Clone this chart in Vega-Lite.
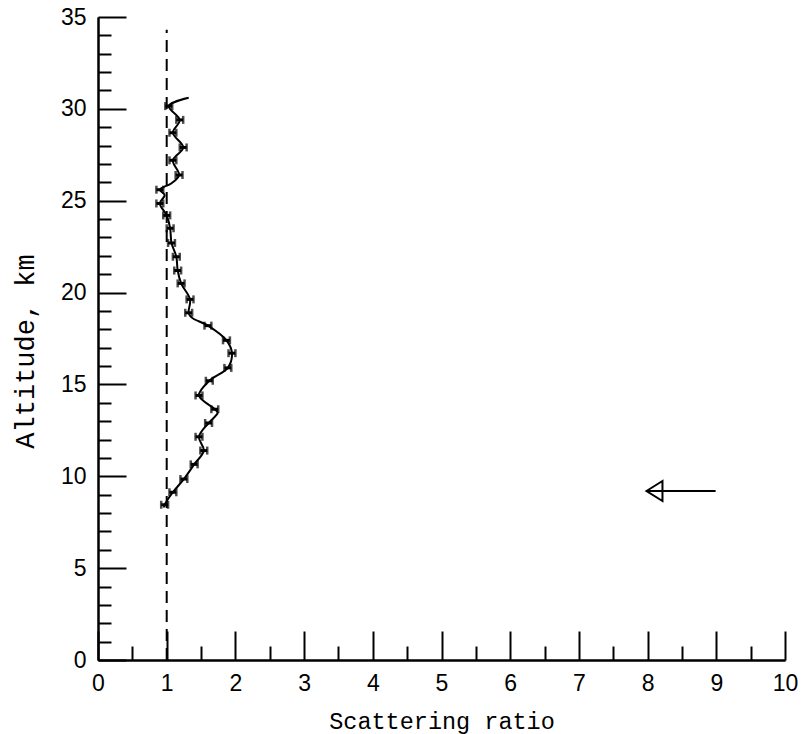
{
  "$schema": "https://vega.github.io/schema/vega-lite/v6.json",
  "width": 687,
  "height": 643,
  "autosize": "none",
  "padding": {"left": 98, "top": 17, "right": 18, "bottom": 74},
  "background": "white",
  "config": {
    "view": {"stroke": null},
    "axis": {
      "grid": false,
      "domainColor": "black",
      "domainWidth": 2,
      "tickColor": "black",
      "tickWidth": 2,
      "labelColor": "black",
      "labelFont": "Liberation Sans",
      "labelFontSize": 23,
      "labelOverlap": false,
      "labelFlush": false,
      "titleColor": "black",
      "titleFont": "Liberation Mono",
      "titleFontWeight": "normal"
    }
  },
  "resolve": {"axis": {"x": "independent", "y": "independent"}},
  "datasets": {
    "curve": [
      {"ratio": 0.96, "alt": 8.3},
      {"ratio": 0.97, "alt": 8.45},
      {"ratio": 1.09, "alt": 9.13},
      {"ratio": 1.25, "alt": 9.85},
      {"ratio": 1.40, "alt": 10.65},
      {"ratio": 1.54, "alt": 11.4},
      {"ratio": 1.47, "alt": 12.15},
      {"ratio": 1.61, "alt": 12.9},
      {"ratio": 1.74, "alt": 13.45},
      {"ratio": 1.70, "alt": 13.65},
      {"ratio": 1.47, "alt": 14.4},
      {"ratio": 1.62, "alt": 15.2},
      {"ratio": 1.89, "alt": 15.9},
      {"ratio": 1.95, "alt": 16.7},
      {"ratio": 1.87, "alt": 17.4},
      {"ratio": 1.60, "alt": 18.2},
      {"ratio": 1.36, "alt": 18.65},
      {"ratio": 1.32, "alt": 18.9},
      {"ratio": 1.34, "alt": 19.63},
      {"ratio": 1.21, "alt": 20.5},
      {"ratio": 1.16, "alt": 21.2},
      {"ratio": 1.14, "alt": 21.95},
      {"ratio": 1.07, "alt": 22.7},
      {"ratio": 1.05, "alt": 23.5},
      {"ratio": 1.00, "alt": 24.2},
      {"ratio": 0.90, "alt": 24.85},
      {"ratio": 0.97, "alt": 25.3},
      {"ratio": 0.90, "alt": 25.6},
      {"ratio": 1.07, "alt": 25.95},
      {"ratio": 1.18, "alt": 26.4},
      {"ratio": 1.09, "alt": 27.2},
      {"ratio": 1.24, "alt": 27.9},
      {"ratio": 1.09, "alt": 28.7},
      {"ratio": 1.19, "alt": 29.4},
      {"ratio": 1.03, "alt": 30.15},
      {"ratio": 1.32, "alt": 30.6}
    ],
    "bars": [
      {"alt": 8.45, "lo": 0.92, "hi": 1.02},
      {"alt": 9.13, "lo": 1.04, "hi": 1.14},
      {"alt": 9.85, "lo": 1.20, "hi": 1.30},
      {"alt": 10.65, "lo": 1.35, "hi": 1.45},
      {"alt": 11.4, "lo": 1.49, "hi": 1.59},
      {"alt": 12.15, "lo": 1.42, "hi": 1.52},
      {"alt": 12.9, "lo": 1.56, "hi": 1.66},
      {"alt": 13.65, "lo": 1.65, "hi": 1.75},
      {"alt": 14.4, "lo": 1.42, "hi": 1.52},
      {"alt": 15.2, "lo": 1.57, "hi": 1.67},
      {"alt": 15.9, "lo": 1.84, "hi": 1.94},
      {"alt": 16.7, "lo": 1.90, "hi": 2.00},
      {"alt": 17.4, "lo": 1.82, "hi": 1.92},
      {"alt": 18.2, "lo": 1.55, "hi": 1.65},
      {"alt": 18.9, "lo": 1.27, "hi": 1.37},
      {"alt": 19.63, "lo": 1.29, "hi": 1.39},
      {"alt": 20.5, "lo": 1.16, "hi": 1.26},
      {"alt": 21.2, "lo": 1.11, "hi": 1.21},
      {"alt": 21.95, "lo": 1.09, "hi": 1.19},
      {"alt": 22.7, "lo": 1.02, "hi": 1.12},
      {"alt": 23.5, "lo": 1.00, "hi": 1.10},
      {"alt": 24.2, "lo": 0.95, "hi": 1.05},
      {"alt": 24.85, "lo": 0.85, "hi": 0.95},
      {"alt": 25.6, "lo": 0.85, "hi": 0.95},
      {"alt": 26.4, "lo": 1.13, "hi": 1.23},
      {"alt": 27.2, "lo": 1.04, "hi": 1.14},
      {"alt": 27.9, "lo": 1.19, "hi": 1.29},
      {"alt": 28.7, "lo": 1.04, "hi": 1.14},
      {"alt": 29.4, "lo": 1.14, "hi": 1.24},
      {"alt": 30.15, "lo": 0.98, "hi": 1.08}
    ],
    "reference": [
      {"ratio": 1, "alt0": 0, "alt1": 34.3}
    ],
    "arrow": [
      {"tip": 7.98, "tail": 8.99, "head": 8.1, "alt": 9.2}
    ]
  },
  "layer": [
    {
      "data": {"name": "reference"},
      "mark": {"type": "rule", "color": "black", "strokeWidth": 2, "strokeDash": [12, 7]},
      "encoding": {
        "x": {
          "field": "ratio", "type": "quantitative",
          "scale": {"domain": [0, 10], "nice": false, "zero": false},
          "axis": {
            "orient": "bottom",
            "values": [0.5, 1.5, 2.5, 3.5, 4.5, 5.5, 6.5, 7.5, 8.5, 9.5],
            "labels": false,
            "tickSize": -14,
            "title": null
          }
        },
        "y": {
          "field": "alt0", "type": "quantitative",
          "scale": {"domain": [0, 35], "nice": false, "zero": false},
          "axis": {
            "orient": "left",
            "values": [1, 2, 3, 4, 6, 7, 8, 9, 11, 12, 13, 14, 16, 17, 18, 19, 21, 22, 23, 24, 26, 27, 28, 29, 31, 32, 33, 34],
            "labels": false,
            "tickSize": -13,
            "title": null
          }
        },
        "y2": {"field": "alt1"}
      }
    },
    {
      "data": {"name": "curve"},
      "mark": {"type": "line", "color": "black", "strokeWidth": 2, "interpolate": "catmull-rom"},
      "encoding": {
        "x": {
          "field": "ratio", "type": "quantitative",
          "axis": {
            "orient": "bottom",
            "values": [0, 1, 2, 3, 4, 5, 6, 7, 8, 9, 10],
            "format": "d",
            "tickSize": -29,
            "labelPadding": 41,
            "title": "Scattering ratio",
            "titleFontSize": 23.5,
            "titlePadding": 14
          }
        },
        "y": {
          "field": "alt", "type": "quantitative",
          "axis": {
            "orient": "left",
            "values": [0, 5, 10, 15, 20, 25, 30, 35],
            "format": "d",
            "tickSize": -28,
            "labelPadding": 40,
            "title": "Altitude, km",
            "titleFontSize": 27,
            "titleX": -65,
            "titleY": 334,
            "titleBaseline": "alphabetic",
            "titleAngle": -90
          }
        },
        "order": {"field": "alt", "type": "quantitative"}
      }
    },
    {
      "data": {"name": "bars"},
      "mark": {"type": "rule", "color": "black", "strokeWidth": 3},
      "encoding": {
        "x": {"field": "lo", "type": "quantitative", "axis": null},
        "x2": {"field": "hi"},
        "y": {"field": "alt", "type": "quantitative", "axis": null}
      }
    },
    {
      "data": {"name": "bars"},
      "mark": {"type": "tick", "orient": "vertical", "color": "black", "size": 8, "thickness": 2.5},
      "encoding": {
        "x": {"field": "lo", "type": "quantitative", "axis": null},
        "y": {"field": "alt", "type": "quantitative", "axis": null}
      }
    },
    {
      "data": {"name": "bars"},
      "mark": {"type": "tick", "orient": "vertical", "color": "black", "size": 8, "thickness": 2.5},
      "encoding": {
        "x": {"field": "hi", "type": "quantitative", "axis": null},
        "y": {"field": "alt", "type": "quantitative", "axis": null}
      }
    },
    {
      "data": {"name": "arrow"},
      "mark": {"type": "rule", "color": "black", "strokeWidth": 2},
      "encoding": {
        "x": {"field": "tip", "type": "quantitative", "axis": null},
        "x2": {"field": "tail"},
        "y": {"field": "alt", "type": "quantitative", "axis": null}
      }
    },
    {
      "data": {"name": "arrow"},
      "mark": {"type": "point", "shape": "M -1 0 L 1 -1.25 L 1 1.25 Z", "filled": false, "color": "black", "strokeWidth": 2, "size": 256, "opacity": 1},
      "encoding": {
        "x": {"field": "head", "type": "quantitative", "axis": null},
        "y": {"field": "alt", "type": "quantitative", "axis": null}
      }
    }
  ]
}
